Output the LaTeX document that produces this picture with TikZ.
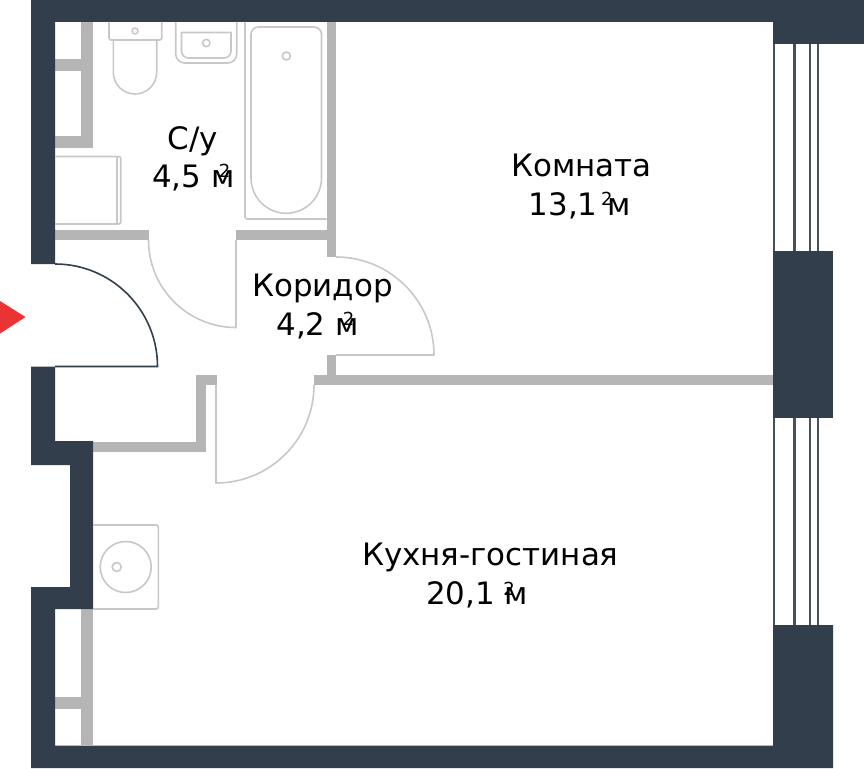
\documentclass[tikz,border=0pt]{standalone}
\usepackage{fontspec}
\setmainfont{DejaVu Sans}
\definecolor{wall}{HTML}{323E4B}
\definecolor{part}{HTML}{B5B5B5}
\definecolor{fixt}{HTML}{C8C8C8}
\definecolor{arrowred}{HTML}{EA3434}
\tikzset{
  darkwall/.style={fill=wall,draw=none},
  partwall/.style={fill=part,draw=none},
  fixture/.style={draw=fixt,line width=1.6pt,fill=none,line join=round},
  pane/.style={draw=wall!90!white,line width=2.1pt},
  label/.style={font=\fontsize{30.9}{36}\selectfont,text=black,anchor=base,inner sep=0pt},
  sup/.style={font=\fontsize{18}{20}\selectfont,text=black,anchor=base,inner sep=0pt}
}
\begin{document}
\begin{tikzpicture}[x=1pt,y=-1pt]
\useasboundingbox (0,0) rectangle (864,768);
\fill[white] (0,0) rectangle (864,768);
% partitions
\fill[partwall] (81,22) rectangle (93.3,148);
\fill[partwall] (55,59.5) rectangle (81,71);
\fill[partwall] (55,136) rectangle (93.3,148);
\fill[partwall] (55,230) rectangle (148.7,240);
\fill[partwall] (235.7,230) rectangle (336,240);
\fill[partwall] (326.7,22) rectangle (336,257);
\fill[partwall] (326.7,355) rectangle (336,385);
\fill[partwall] (314,375) rectangle (773,385);
\fill[partwall] (195.7,375) rectangle (216.5,385);
\fill[partwall] (195.7,375) rectangle (206.3,451.7);
\fill[partwall] (93,441.7) rectangle (206.3,451.7);
\fill[partwall] (80.5,609) rectangle (93,745);
\fill[partwall] (55,696.5) rectangle (80.5,709);
% window panes
\foreach \wx in {773.8,794.5,810,818.3}{
  \draw[pane] (\wx,44) -- (\wx,251);
  \draw[pane] (\wx,418) -- (\wx,625);
}
% load-bearing walls
\fill[darkwall] (31,0) -- (864,0) -- (864,44) -- (773,44) -- (773,22) -- (55,22)
  -- (55,264) -- (31,264) -- cycle;
\fill[darkwall] (31,366.5) -- (55,366.5) -- (55,441) -- (93,441) -- (93,609) -- (55,609)
  -- (55,745.5) -- (773,745.5) -- (773,625) -- (833,625) -- (833,768) -- (31,768)
  -- (31,587) -- (70,587) -- (70,465) -- (31,465) -- cycle;
\fill[darkwall] (773,251) rectangle (833,418);
% entrance
\fill[arrowred] (0,301) -- (25.5,317) -- (0,333.5) -- cycle;
\draw[wall,line width=1.6pt] (55,264) arc[start angle=-90,end angle=0,radius=102.5] -- (55,366.5);
% doors
\draw[fixture] (148.5,240) arc[start angle=180,end angle=90,radius=87.5] -- (236,240);
\draw[fixture] (336,257) arc[start angle=-90,end angle=0,radius=98] -- (336,355);
\draw[fixture] (216,385) -- (216,483) arc[start angle=90,end angle=0,radius=98];
% toilet
\draw[fixture] (109,22) -- (109,38) arc[start angle=180,end angle=90,radius=2] -- (159.7,40)
  arc[start angle=90,end angle=0,radius=2] -- (161.7,22);
\draw[fixture] (113.3,40) -- (113.3,72.3) arc[start angle=180,end angle=0,radius=21.7] -- (156.7,40);
\draw[fixture] (135,31) circle[radius=3];
% basin
\draw[fixture] (175.7,22) -- (175.7,54) arc[start angle=180,end angle=90,radius=9] -- (227.7,63)
  arc[start angle=90,end angle=0,radius=9] -- (236.7,22);
\draw[fixture] (181.5,32.5) -- (181.5,51) arc[start angle=180,end angle=90,radius=7] -- (224,58)
  arc[start angle=90,end angle=0,radius=7] -- (231,32.5) -- cycle;
\draw[fixture] (206.3,43) circle[radius=3.7];
% bath
\draw[fixture] (245,22) -- (245,217) arc[start angle=180,end angle=90,radius=2] -- (326.7,219);
\draw[fixture] (251,34.5) arc[start angle=180,end angle=270,radius=7.5] -- (314,27)
  arc[start angle=-90,end angle=0,radius=7.5] -- (321.5,178) arc[start angle=0,end angle=180,radius=35.25] -- cycle;
\draw[fixture] (286.3,56) circle[radius=4];
% washer
\draw[fixture] (55,156.5) -- (118.7,156.5) arc[start angle=-90,end angle=0,radius=2] -- (120.7,222)
  arc[start angle=0,end angle=90,radius=2] -- (55,224);
\draw[fixture] (116.7,156.5) -- (116.7,224);
% kitchen unit
\draw[fixture] (93,525) -- (156.3,525) arc[start angle=-90,end angle=0,radius=2] -- (158.3,607)
  arc[start angle=0,end angle=90,radius=2] -- (93,609);
\draw[fixture] (125.7,567) circle[radius=25.5];
\draw[fixture] (116.7,567) circle[radius=4.5];
% labels
\node[label] (wc) at (193,149) {С/у};
\node[label] (wca) at (193.3,187.5) {4,5 м};
\node[sup] (wcs) at (224.5,177) {2};
\node[label] (room) at (581.5,176) {Комната};
\node[label] (rooma) at (579.8,215.5) {13,1 м};
\node[sup] (rooms) at (606.8,205) {2};
\node[label] (hall) at (322.5,296.5) {Коридор};
\node[label] (halla) at (317.5,335.5) {4,2 м};
\node[sup] (halls) at (348.5,325) {2};
\node[label] (kitchen) at (490.3,565.5) {Кухня-гостиная};
\node[label] (kitchena) at (477,604.5) {20,1 м};
\node[sup] (kitchens) at (509,595) {2};
\end{tikzpicture}
\end{document}
